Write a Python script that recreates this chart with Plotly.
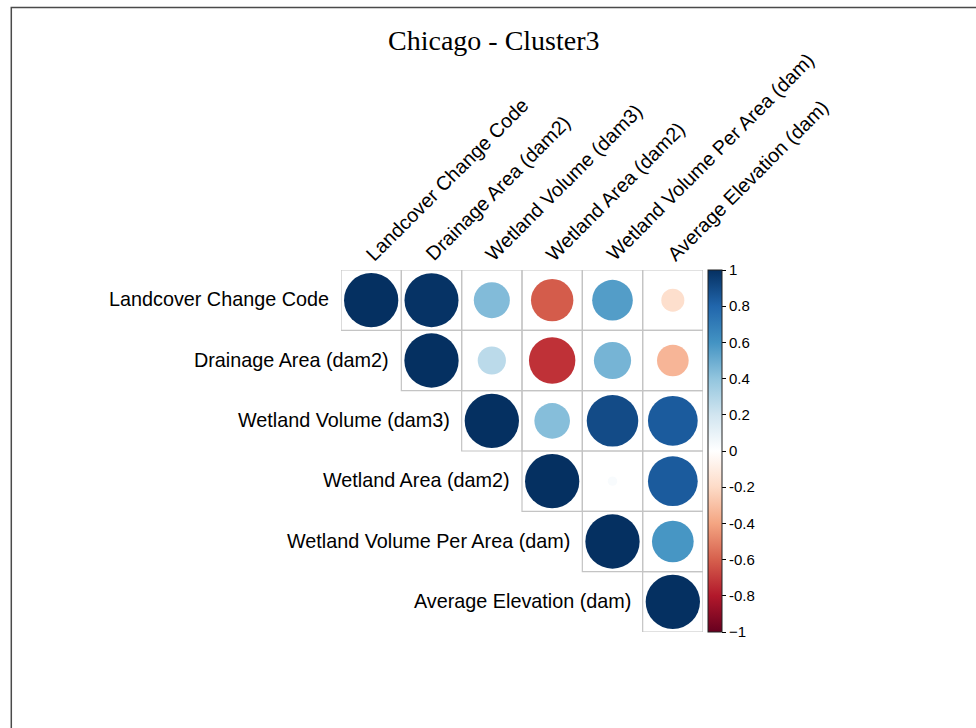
import plotly.graph_objects as go
import math

# ---- data ----
variables = [
    "Landcover Change Code",
    "Drainage Area (dam2)",
    "Wetland Volume (dam3)",
    "Wetland Area (dam2)",
    "Wetland Volume Per Area (dam)",
    "Average Elevation (dam)",
]
# upper-triangle correlations, row i from column i onwards
row1 = [1.00, 0.99, 0.44, -0.61, 0.56, -0.18]
row2 = [1.00, 0.27, -0.73, 0.47, -0.34]
row3 = [1.00, 0.43, 0.90, 0.84]
row4 = [1.00, 0.03, 0.84]
row5 = [1.00, 0.59]
row6 = [1.00]
rows = [row1, row2, row3, row4, row5, row6]

cbar_vals = [-1, -0.8, -0.6, -0.4, -0.2, 0, 0.2, 0.4, 0.6, 0.8, 1]
cbar_text = ["\u22121", "-0.8", "-0.6", "-0.4", "-0.2", "0", "0.2", "0.4", "0.6", "0.8", "1"]
title_text = "Chicago - Cluster3"

rdbu = ["#67001F", "#B2182B", "#D6604D", "#F4A582", "#FDDBC7", "#FFFFFF",
        "#D1E5F0", "#92C5DE", "#4393C3", "#2166AC", "#053061"]
colorscale = [[i / 10, c] for i, c in enumerate(rdbu)]

# ---- layout geometry ----
W, H = 976, 728
L, R, T, B = 340.7, 273.3, 270, 96
plot_w = W - L - R
plot_h = H - T - B
cell = plot_w / 6.0
max_diam = 0.9 * cell

xs, ys, vals, sizes = [], [], [], []
for i, r in enumerate(rows):
    for k, v in enumerate(r):
        j = i + k
        xs.append(j + 1)
        ys.append(i + 1)
        vals.append(v)
        sizes.append(max_diam * math.sqrt(abs(v)))

fig = go.Figure()

shapes = []
for i, r in enumerate(rows):
    for k in range(len(r)):
        j = i + k + 1
        shapes.append(dict(type="rect", xref="x", yref="y",
                           x0=j - 0.5, x1=j + 0.5, y0=i + 0.5, y1=i + 1.5,
                           line=dict(color="#C4C4C4", width=1.2),
                           fillcolor="rgba(0,0,0,0)", layer="below"))


def px_to_paper_x(px):
    return (px - L) / plot_w


def px_to_paper_y(py):
    return (H - B - py) / plot_h


# outer frame
shapes.append(dict(type="rect", xref="paper", yref="paper",
                   x0=px_to_paper_x(11), x1=px_to_paper_x(990),
                   y0=px_to_paper_y(740), y1=px_to_paper_y(7.5),
                   line=dict(color="#4A4A4A", width=1.5),
                   fillcolor="rgba(0,0,0,0)", layer="below"))

fig.add_trace(go.Scatter(
    x=xs, y=ys, mode="markers",
    marker=dict(size=sizes, color=vals, colorscale=colorscale,
                cmin=-1, cmax=1, line=dict(width=0), opacity=1,
                showscale=True,
                colorbar=dict(
                    x=px_to_paper_x(708), xanchor="left", xpad=0,
                    y=0.5, yanchor="middle", ypad=0,
                    len=plot_h, lenmode="pixels",
                    thickness=14, thicknessmode="pixels",
                    outlinewidth=1, outlinecolor="#222222",
                    tickmode="array", tickvals=cbar_vals, ticktext=cbar_text,
                    ticks="outside", ticklen=4, tickcolor="black", tickwidth=1,
                    tickfont=dict(family="Liberation Sans, Arial", size=15, color="black"),
                )),
    hoverinfo="skip", showlegend=False,
))

annotations = []
label_font = dict(family="Liberation Sans, Arial", size=19.8, color="black")
for i, name in enumerate(variables):
    annotations.append(dict(x=i + 0.5, y=i + 1, xref="x", yref="y",
                            text=name, showarrow=False, xanchor="right",
                            yanchor="middle", xshift=-10, yshift=1, font=label_font))
    annotations.append(dict(x=i + 1, y=0.5, xref="x", yref="y",
                            text=name, showarrow=False, xanchor="left",
                            yanchor="bottom", textangle=-45,
                            xshift=-13, yshift=2, font=label_font))

annotations.append(dict(x=px_to_paper_x(494), y=px_to_paper_y(41),
                        xref="paper", yref="paper", text=title_text,
                        showarrow=False, xanchor="center", yanchor="middle",
                        font=dict(family="Liberation Serif", size=28, color="black")))

fig.update_layout(
    width=W, height=H,
    margin=dict(l=L, r=R, t=T, b=B, autoexpand=False),
    paper_bgcolor="white", plot_bgcolor="white",
    xaxis=dict(range=[0.5, 6.5], visible=False, fixedrange=True),
    yaxis=dict(range=[6.5, 0.5], visible=False, fixedrange=True),
    shapes=shapes, annotations=annotations,
)

fig.write_html("out.html", config={"displayModeBar": False},
               post_script="document.body.style.margin='0';")
